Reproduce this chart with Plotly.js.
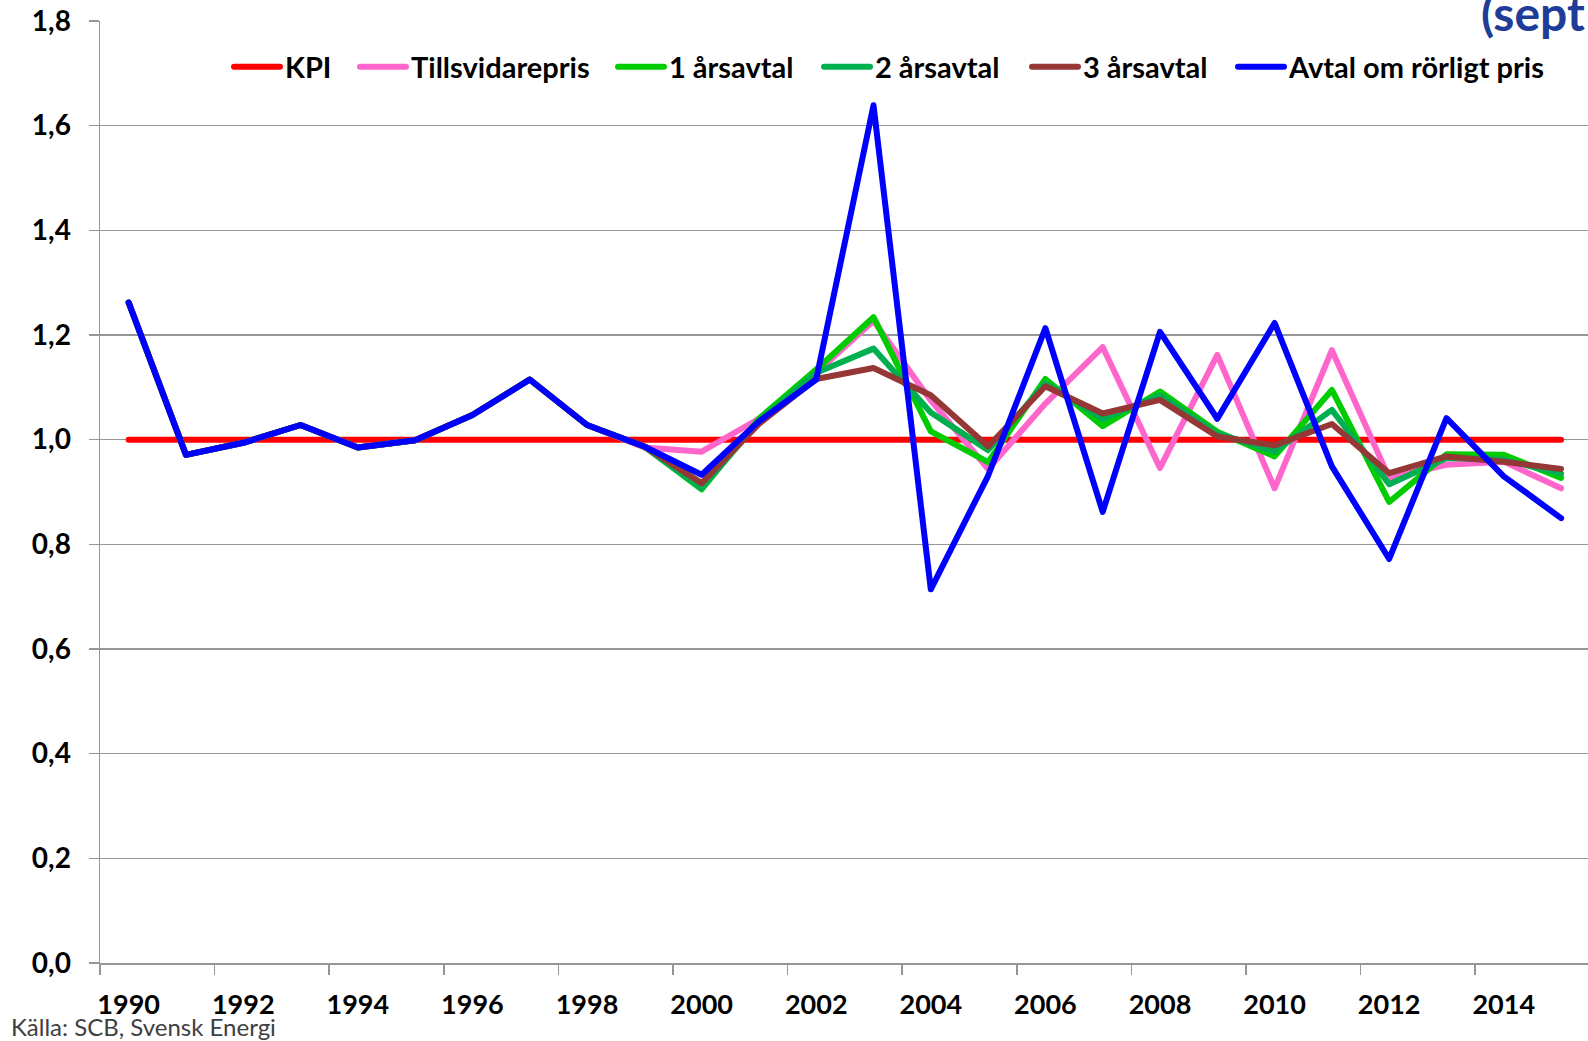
<!DOCTYPE html>
<html>
<head>
<meta charset="utf-8">
<script src="https://cdn.plot.ly/plotly-3.0.1.min.js"></script>
<style>
  html, body { margin: 0; padding: 0; background: #fff; }
  #chart { width: 1588px; height: 1041px; }
  .js-line { stroke-linecap: round; stroke-linejoin: round; }
</style>
</head>
<body>
<div id="chart"></div>
<script>
// ---- data ----
const years = [1990,1991,1992,1993,1994,1995,1996,1997,1998,1999,2000,2001,2002,2003,2004,2005,2006,2007,2008,2009,2010,2011,2012,2013,2014,2015];
const tickYears = [1990,1992,1994,1996,1998,2000,2002,2004,2006,2008,2010,2012,2014];
const seriesNames = ["KPI", "Tillsvidarepris", "1 årsavtal", "2 årsavtal", "3 årsavtal", "Avtal om rörligt pris"];
const kpi = [1,1,1,1,1,1,1,1,1,1,1,1,1,1,1,1,1,1,1,1,1,1,1,1,1,1];
const tillsvidarepris = [1.262,0.971,0.994,1.028,0.985,0.999,1.047,1.115,1.028,0.985,0.977,1.040,1.128,1.227,1.075,0.944,1.069,1.177,0.946,1.162,0.907,1.171,0.927,0.952,0.958,0.907];
const arsavtal1 = [1.262,0.971,0.994,1.028,0.985,0.999,1.047,1.115,1.028,0.987,0.905,1.040,1.134,1.234,1.016,0.957,1.116,1.026,1.092,1.015,0.968,1.095,0.881,0.972,0.971,0.927];
const arsavtal2 = [1.262,0.971,0.994,1.028,0.985,0.999,1.047,1.115,1.028,0.987,0.907,1.035,1.128,1.174,1.052,0.980,1.108,1.039,1.085,1.012,0.977,1.057,0.915,0.965,0.962,0.935];
const arsavtal3 = [1.262,0.971,0.994,1.028,0.985,0.999,1.047,1.115,1.028,0.987,0.917,1.030,1.116,1.137,1.085,0.987,1.102,1.050,1.076,1.006,0.989,1.030,0.936,0.968,0.958,0.944];
const rorligt = [1.262,0.971,0.994,1.028,0.985,0.999,1.047,1.115,1.028,0.987,0.933,1.035,1.115,1.639,0.714,0.931,1.213,0.862,1.206,1.040,1.223,0.949,0.772,1.041,0.930,0.850];
const yTicks = [0,0.2,0.4,0.6,0.8,1.0,1.2,1.4,1.6,1.8];

// ---- styling ----
const colors = ["#FF0000", "#FF66CC", "#00CC00", "#00B050", "#953735", "#0000FF"];
const allSeries = [kpi, tillsvidarepris, arsavtal1, arsavtal2, arsavtal3, rorligt];
const FONT = 'Lato, "Open Sans", "DejaVu Sans", sans-serif';

const W = 1588, H = 1041;
const M = {l: 100, r: 0, t: 21, b: 78};
const plotW = W - M.l - M.r, plotH = H - M.t - M.b;
const px2x = p => (p - M.l) / plotW;
const px2y = p => (H - M.b - p) / plotH;

// legend entries: x (px) of symbol start
const legendX = [229, 355, 613, 819, 1027, 1233];
const legendYpx = 67;

const traces = allSeries.map((vals, i) => ({
  type: 'scatter',
  mode: 'lines',
  x: years,
  y: vals,
  name: seriesNames[i],
  line: {color: colors[i], width: 6},
  legend: i === 0 ? 'legend' : 'legend' + (i + 1),
  hoverinfo: 'x+y+name'
}));

const layout = {
  width: W, height: H,
  margin: M,
  paper_bgcolor: '#ffffff',
  plot_bgcolor: '#ffffff',
  separators: ', ',
  font: {family: FONT, size: 26, color: '#000000', weight: 'bold'},
  showlegend: true,
  xaxis: {
    range: [1989.5, 2015.47],
    tickmode: 'array',
    tickvals: tickYears,
    ticktext: tickYears.map(String),
    ticks: '',
    showgrid: false,
    zeroline: false,
    showline: true,
    linecolor: '#969696',
    linewidth: 1.5,
    ticklabelstandoff: 17,
    tickfont: {family: FONT, size: 27, color: '#000000', weight: 'bold'},
    minor: {tick0: 1989.5, dtick: 2, ticks: 'outside', ticklen: 10, tickcolor: '#969696', tickwidth: 1.5, showgrid: false}
  },
  yaxis: {
    range: [0, 1.8],
    tickmode: 'array',
    tickvals: yTicks,
    tickformat: '.1f',
    ticks: 'outside',
    ticklen: 10,
    tickcolor: '#969696',
    tickwidth: 1.5,
    showgrid: true,
    gridcolor: '#969696',
    gridwidth: 1.5,
    zeroline: false,
    showline: true,
    linecolor: '#969696',
    linewidth: 1.5,
    ticklabelstandoff: 12,
    tickfont: {family: FONT, size: 28, color: '#000000', weight: 'bold'}
  },
  annotations: [
    {
      text: 'Källa: SCB, Svensk Energi',
      xref: 'paper', yref: 'paper',
      x: px2x(9), y: px2y(1026),
      xanchor: 'left', yanchor: 'middle',
      showarrow: false,
      font: {family: FONT, size: 24, color: '#404040', weight: 'normal'}
    },
    {
      text: '(sept',
      xref: 'paper', yref: 'paper',
      x: px2x(1476), y: px2y(-21),
      xanchor: 'left', yanchor: 'top',
      showarrow: false,
      bgcolor: '#ffffff',
      borderpad: 4,
      font: {family: FONT, size: 48, color: '#1F3C99', weight: 'bold'}
    }
  ]
};

seriesNames.forEach((n, i) => {
  const key = i === 0 ? 'legend' : 'legend' + (i + 1);
  layout[key] = {
    orientation: 'h',
    xref: 'paper', yref: 'paper',
    x: px2x(legendX[i]), y: px2y(legendYpx),
    xanchor: 'left', yanchor: 'middle',
    bgcolor: 'rgba(0,0,0,0)',
    borderwidth: 0,
    itemwidth: 46,
    font: {family: FONT, size: 29, color: '#000000', weight: 'bold'}
  };
});

Plotly.newPlot('chart', traces, layout, {displayModeBar: false, staticPlot: true});
</script>
</body>
</html>
